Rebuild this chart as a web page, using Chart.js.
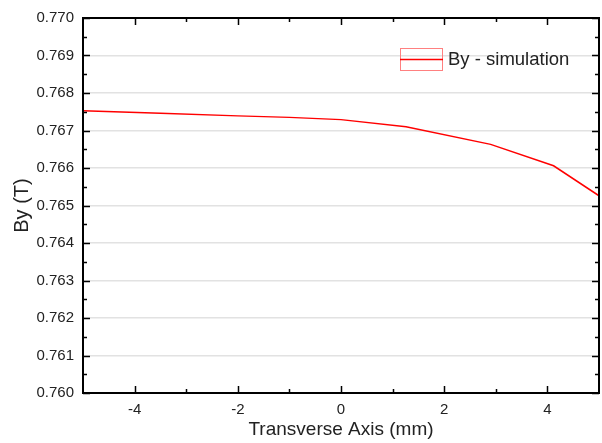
<!DOCTYPE html>
<html>
<head>
<meta charset="utf-8">
<script src="https://cdn.jsdelivr.net/npm/chart.js@4/dist/chart.umd.min.js"></script>
<style>
  html, body { margin: 0; padding: 0; background: #fff; }
  #wrap { width: 602px; height: 443px; }
</style>
</head>
<body>
<div id="wrap"><canvas id="chart" width="602" height="443"></canvas></div>
<script>
'use strict';

// Transverse position (mm) and field By (T).
var positions = [-5, -3.5, -2, -1, 0, 1.26, 2.9, 4.12, 5];
var fieldBy = [0.76753, 0.76746, 0.76739, 0.76735, 0.76729, 0.76710, 0.76663, 0.76606, 0.76526];
var seriesLabel = 'By - simulation';

var xTicks = [-4, -2, 0, 2, 4];
var xMinor = [-3, -1, 1, 3];
var yTicks = [0.760, 0.761, 0.762, 0.763, 0.764, 0.765, 0.766, 0.767, 0.768, 0.769, 0.770];
var yMinor = [0.7605, 0.7615, 0.7625, 0.7635, 0.7645, 0.7655, 0.7665, 0.7675, 0.7685, 0.7695];

var FONT = 'Liberation Sans, Arial, sans-serif';
var INK = '#222';

//
// Closed frame with inward tick marks on all four sides.
//
var frame = {
  id: 'frame',
  afterDraw: function (chart) {
    var ctx = chart.ctx, a = chart.chartArea
      , x = chart.scales.x, y = chart.scales.y;

    ctx.save();
    ctx.strokeStyle = '#000';
    ctx.lineWidth = 1.5;

    function tickX(list, len) {
      list.forEach(function (v) {
        var px = Math.round(x.getPixelForValue(v)) + 0.5;
        ctx.beginPath();
        ctx.moveTo(px, a.bottom); ctx.lineTo(px, a.bottom - len);
        ctx.moveTo(px, a.top); ctx.lineTo(px, a.top + len);
        ctx.stroke();
      });
    }
    function tickY(list, len) {
      list.forEach(function (v) {
        var py = Math.round(y.getPixelForValue(v)) + 0.5;
        ctx.beginPath();
        ctx.moveTo(a.left, py); ctx.lineTo(a.left + len, py);
        ctx.moveTo(a.right, py); ctx.lineTo(a.right - len, py);
        ctx.stroke();
      });
    }
    tickX(xTicks, 7);
    tickX(xMinor, 4);
    tickY(yTicks, 7);
    tickY(yMinor, 4);

    ctx.lineWidth = 2;
    ctx.strokeRect(a.left, a.top, a.right - a.left, a.bottom - a.top);

    //
    // Legend box inside the plot, top right.
    //
    var ds = chart.data.datasets[0];
    ctx.strokeStyle = '#ff8080';
    ctx.lineWidth = 1;
    ctx.strokeRect(400.5, 48.5, 42, 22);
    ctx.strokeStyle = ds.borderColor;
    ctx.lineWidth = 1.5;
    ctx.beginPath();
    ctx.moveTo(400, 59.5); ctx.lineTo(443, 59.5);
    ctx.stroke();
    ctx.fillStyle = INK;
    ctx.font = '18.5px ' + FONT;
    ctx.textBaseline = 'middle';
    ctx.fillText(ds.label, 448, 60);
    ctx.restore();
  }
};

new Chart(document.getElementById('chart'), {
  type: 'scatter',
  data: {
    datasets: [{
      label: seriesLabel,
      data: positions.map(function (p, i) { return { x: p, y: fieldBy[i] }; }),
      showLine: true,
      borderColor: '#ff0000',
      borderWidth: 1.5,
      pointRadius: 0,
      tension: 0
    }]
  },
  options: {
    responsive: false,
    animation: false,
    layout: { padding: { top: 14, right: 3, left: 0, bottom: 0 } },
    plugins: { legend: { display: false }, tooltip: { enabled: false } },
    scales: {
      x: {
        type: 'linear',
        min: -5,
        max: 5,
        afterBuildTicks: function (s) { s.ticks = xTicks.map(function (v) { return { value: v }; }); },
        afterFit: function (s) { s.height = 50; },
        grid: { display: false, drawTicks: false },
        border: { display: false },
        ticks: { color: INK, font: { family: FONT, size: 15 }, padding: 8, maxRotation: 0 },
        title: {
          display: true,
          text: 'Transverse Axis (mm)',
          color: INK,
          font: { family: FONT, size: 19 },
          padding: { top: 0, bottom: 2 }
        }
      },
      y: {
        min: 0.760,
        max: 0.770,
        afterBuildTicks: function (s) { s.ticks = yTicks.map(function (v) { return { value: v }; }); },
        afterFit: function (s) { s.width = 83; },
        grid: { color: '#e2e2e2', lineWidth: 1.5, drawTicks: false },
        border: { display: false },
        ticks: {
          color: INK,
          font: { family: FONT, size: 15 },
          padding: 9,
          callback: function (v) { return v.toFixed(3); }
        },
        title: {
          display: true,
          text: 'By (T)',
          color: INK,
          font: { family: FONT, size: 20 },
          padding: { top: 10, bottom: 0 }
        }
      }
    }
  },
  plugins: [frame]
});
</script>
</body>
</html>
